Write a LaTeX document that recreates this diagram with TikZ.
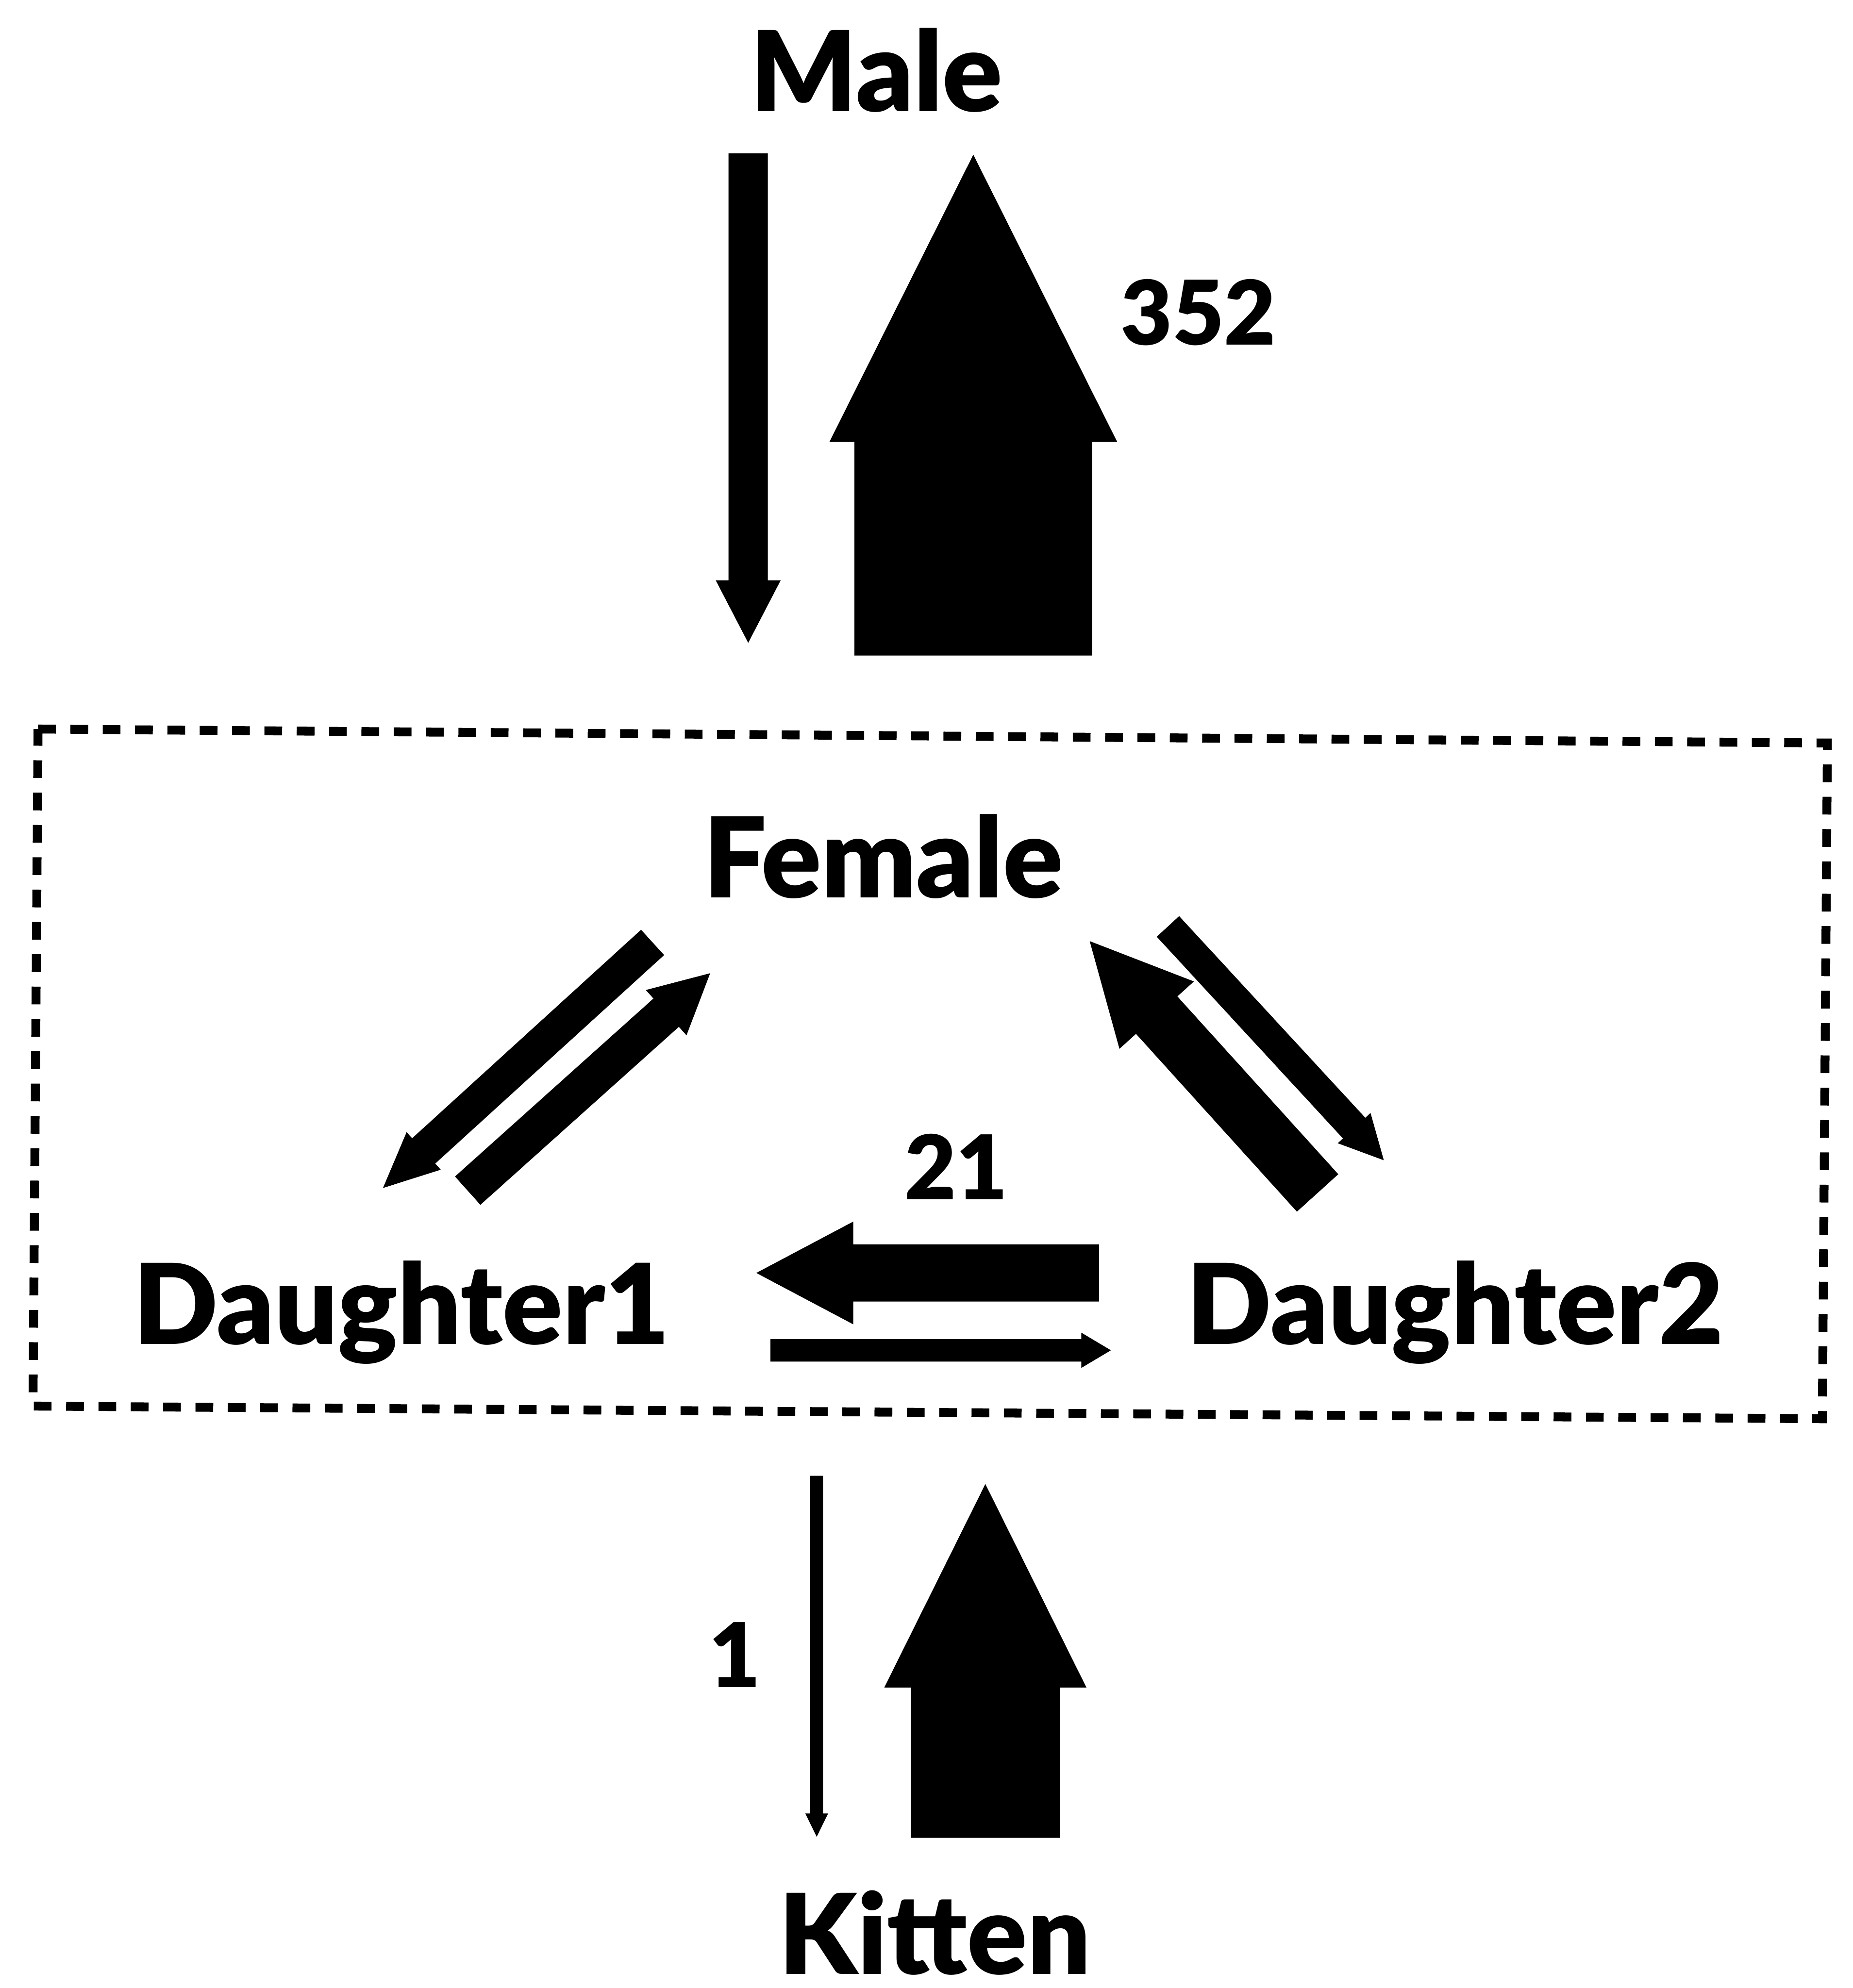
\documentclass[tikz,border=0pt]{standalone}
\usepackage{fontspec}
\setmainfont{Lato}[BoldFont={Lato Black}]
\usetikzlibrary{calc}
\tikzset{
  lbl/.style={font=\fontsize{25}{30}\selectfont\bfseries, inner sep=0pt, anchor=base},
  num/.style={font=\fontsize{20}{24}\selectfont\bfseries, inner sep=0pt, anchor=base},
  blk/.style={fill=black},
  grp/.style={draw=black, line width=0.7mm, dash pattern=on 1.4mm off 1.15mm},
}
% tail, tip, half shaft width, half head width, head length
\newcommand\blockarrow[5]{%
  \path ($(#2)!#5!(#1)$) coordinate (ba-h);
  \fill[blk] ($(#1)!#3!90:(#2)$) -- ($(ba-h)!#3!-90:(#1)$) -- ($(ba-h)!#4!-90:(#1)$)
    -- (#2) -- ($(ba-h)!#4!90:(#1)$) -- ($(ba-h)!#3!90:(#1)$) -- ($(#1)!#3!-90:(#2)$) -- cycle;
}
\begin{document}
\begin{tikzpicture}[x=0.1mm, y=-0.1mm]
\fill[white] (0,0) rectangle (1461,1568);
\useasboundingbox (0,0) rectangle (1461,1568);

% labels
\node[lbl] (male) at (691,88) {Male};
\node[lbl] (female) at (696.5,708) {Female};
\node[lbl] (d1) at (316.5,1060) {Daughter1};
\node[lbl] (d2) at (1147.5,1060) {Daughter2};
\node[lbl] (kitten) at (737,1557) {Kitten};
\node[num] (n352) at (945,272) {352};
\node[num] (n21) at (754,946) {21};
\node[num] (n1) at (579.5,1331) {1};

% group box
\draw[grp] (30,575) -- (1441,586) -- (1437,1119) -- (26,1109) -- cycle;

% arrow end points
\coordinate (mfT) at (590,121);   \coordinate (mfP) at (590,507);
\coordinate (fmT) at (767.5,517); \coordinate (fmP) at (767.5,122);
\coordinate (fd1T) at (514.6,743.3); \coordinate (fd1P) at (302,937);
\coordinate (d1fT) at (368.8,939.1); \coordinate (d1fP) at (560,767.6);
\coordinate (d2fT) at (1039,940.9); \coordinate (d2fP) at (859.3,742.3);
\coordinate (fd2T) at (921,730.7);  \coordinate (fd2P) at (1091.2,915.1);
\coordinate (d21T) at (866.6,1004); \coordinate (d21P) at (596.4,1004);
\coordinate (d12T) at (607.6,1065); \coordinate (d12P) at (876,1065);
\coordinate (fkT) at (644,1164);    \coordinate (fkP) at (644,1448.7);
\coordinate (kfT) at (777,1449.5);  \coordinate (kfP) at (777,1170.5);

\blockarrow{mfT}{mfP}{1.55mm}{2.56mm}{4.93mm}
\blockarrow{fmT}{fmP}{9.37mm}{11.35mm}{22.66mm}
\blockarrow{fd1T}{fd1P}{1.35mm}{2.0mm}{4.34mm}
\blockarrow{d1fT}{d1fP}{1.5mm}{2.4mm}{4.66mm}
\blockarrow{d2fT}{d2fP}{2.2mm}{3.96mm}{7.87mm}
\blockarrow{fd2T}{fd2P}{1.2mm}{1.76mm}{3.45mm}
\blockarrow{d21T}{d21P}{2.25mm}{4.05mm}{7.64mm}
\blockarrow{d12T}{d12P}{0.89mm}{1.39mm}{2.33mm}
\blockarrow{fkT}{fkP}{0.5mm}{0.9mm}{1.84mm}
\blockarrow{kfT}{kfP}{5.875mm}{7.97mm}{16.05mm}
\end{tikzpicture}
\end{document}
